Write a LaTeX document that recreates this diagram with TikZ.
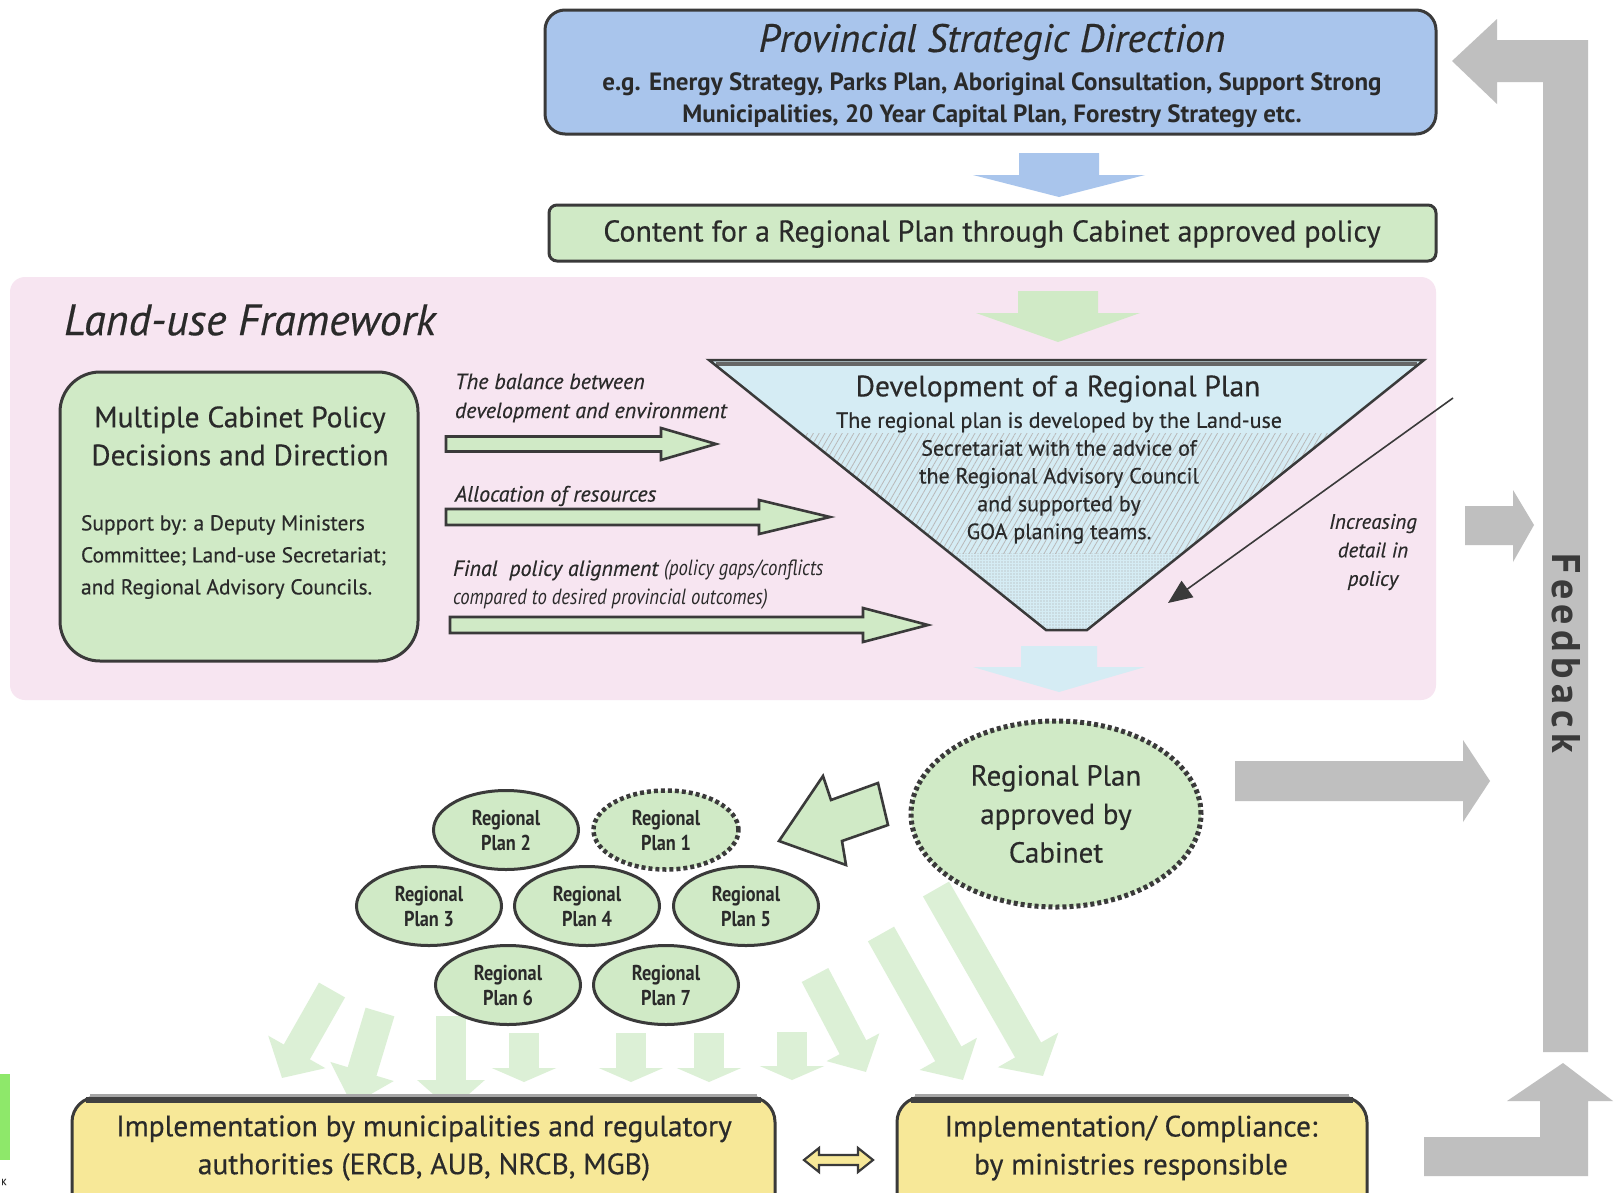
\documentclass[tikz,border=0pt]{standalone}
\usepackage{fontspec}
\setmainfont{PT Sans}[UprightFeatures={FakeBold=0.4},ItalicFeatures={FakeBold=0.4}]
\newfontfamily\condfont{PT Sans}[FakeStretch=0.85]
\newfontfamily\fbfont{PT Sans}[LetterSpace=14]
\usetikzlibrary{shapes.geometric,arrows.meta,patterns.meta}
\definecolor{bluebox}{HTML}{A9C5EC}
\definecolor{greenbox}{HTML}{D0EAC6}
\definecolor{pinkbg}{HTML}{F7E5F1}
\definecolor{funnelc}{HTML}{D5ECF4}
\definecolor{yellowbox}{HTML}{F7E898}
\definecolor{fbgray}{HTML}{BFBFBF}
\definecolor{faint}{HTML}{DCF0D6}
\definecolor{edge}{HTML}{3A3A3A}
\definecolor{ink}{HTML}{2A2A2A}
\definecolor{sliver}{HTML}{8EE86A}
\tikzset{
  boxedge/.style={draw=edge, line width=3pt},
  hollowgreen/.style={fill=greenbox, draw=edge, line width=2.6pt, line join=miter},
  fbarrow/.style={fill=fbgray},
  faintarrow/.style={draw=faint, line width=30pt, line cap=butt},
  planell/.style={ellipse, fill=greenbox, boxedge, minimum width=145pt, minimum height=79pt, align=center,
    font=\condfont\bfseries\fontsize{21.5}{25}\selectfont},
  dotedge/.style={draw=edge, dash pattern=on 4pt off 3pt},
  lab/.style={font=\itshape\fontsize{22}{29}\selectfont, align=left, anchor=west},
}
\newcommand\myHarrow[6]{% x0, xbase, xtip, yc, shaft half, head half
  \draw[hollowgreen] (#1,#4-#5) -- (#2,#4-#5) -- (#2,#4-#6) -- (#3,#4) -- (#2,#4+#6) -- (#2,#4+#5) -- (#1,#4+#5) -- cycle;}
\newcommand\myVarrow[7]{% color, xc, y0, ybase, ytip, shaft half, head half
  \fill[#1] (#2-#6,#3) -- (#2+#6,#3) -- (#2+#6,#4) -- (#2+#7,#4) -- (#2,#5) -- (#2-#7,#4) -- (#2-#6,#4) -- cycle;}
\begin{document}
\begin{tikzpicture}[x=1pt,y=-1pt,every node/.style={text=ink,inner sep=0pt,outer sep=0pt}]
\useasboundingbox (0,0) rectangle (1620,1192);
\fill[white] (0,0) rectangle (1620,1192);

% fragments at left edge
\fill[sliver] (0,1074) rectangle (10,1160);
\node[font=\fontsize{9}{10}\selectfont] (kfrag) at (4,1182) {K};

% Land-use framework background
\fill[pinkbg, rounded corners=15pt] (10,277) rectangle (1436,700);

% Provincial strategic direction
\node[boxedge, fill=bluebox, rounded corners=20pt, minimum width=891pt, minimum height=124pt] (psd) at (990.5,72) {};
\node[font=\itshape\fontsize{39.5}{44}\selectfont] (psdT) at (992,42) {Provincial Strategic Direction};
\node[font=\bfseries\fontsize{25}{32}\selectfont, align=center] (psdS) at (992,100)
  {e.g. Energy Strategy, Parks Plan, Aboriginal Consultation, Support Strong\\Municipalities, 20 Year Capital Plan, Forestry Strategy etc.};

% content box
\node[boxedge, fill=greenbox, rounded corners=8pt, minimum width=887pt, minimum height=56pt] (cont) at (992.5,233) {};
\node[font=\fontsize{30}{34}\selectfont] (contT) at (992,234) {Content for a Regional Plan through Cabinet approved policy};

% block arrows down
\myVarrow{bluebox}{1059}{153}{175}{197}{40}{86}
\myVarrow{greenbox}{1058}{291}{313}{342}{40}{82}
\myVarrow{funnelc}{1059}{646}{667}{692}{38}{86}

% Land-use framework title
\node[font=\itshape\fontsize{44}{48}\selectfont, anchor=west] (luf) at (64,320) {Land-use Framework};

% Multiple cabinet policy box
\node[boxedge, fill=greenbox, rounded corners=40pt, minimum width=358pt, minimum height=289pt] (mcp) at (239,516.5) {};
\node[font=\fontsize{29.5}{38}\selectfont, align=center] (mcT) at (240,436) {Multiple Cabinet Policy\\Decisions and Direction};
\node[font=\fontsize{21.5}{32}\selectfont, align=left, anchor=west] (mcS) at (81,557)
  {Support by: a Deputy Ministers\\Committee; Land-use Secretariat;\\and Regional Advisory Councils.};

% three hollow arrows with labels
\node[lab] (lab1) at (455,398) {The balance between\\development and environment};
\myHarrow{446}{661}{716}{444}{7.5}{16}
\node[lab] (lab2) at (455,496) {Allocation of resources};
\myHarrow{446}{759}{830}{517}{8}{17}
\node[lab] (lab3) at (453,585)
  {Final\ \ policy alignment {\condfont(policy gaps/conflicts}\\{\condfont compared to desired provincial outcomes)}};
\myHarrow{450}{863}{928}{625}{8}{17}

% funnel
\coordinate (fTL) at (709,360);
\coordinate (fTR) at (1424,360);
\coordinate (fBR) at (1087,630);
\coordinate (fBL) at (1046,630);
\fill[funnelc] (fTL) -- (fTR) -- (fBR) -- (fBL) -- cycle;
\begin{scope}
  \clip (fTL) -- (fTR) -- (fBR) -- (fBL) -- cycle;
  \fill[pattern={Lines[angle=60,distance=5pt,line width=0.8pt]}, pattern color=gray!55] (700,433) rectangle (1430,553);
  \fill[pattern={Dots[radius=0.7pt,distance=3pt]}, pattern color=gray!70] (700,553) rectangle (1430,632);
\end{scope}
\draw[gray!80!black, line width=4pt] (716,364) -- (1417,364);
\draw[edge, line width=2.5pt, line join=miter] (fTL) -- (fTR) -- (fBR) -- (fBL) -- cycle;
\node[font=\fontsize{29.5}{32}\selectfont] (devT) at (1058,389) {Development of a Regional Plan};
\node[font=\fontsize{22}{27.8}\selectfont, align=center] (devS) at (1059,478)
  {The regional plan is developed by the Land-use\\Secretariat with the advice of\\the Regional Advisory Council\\and supported by\\GOA planing teams.};

% increasing detail
\coordinate (incS) at (1453,398);
\coordinate (incE) at (1168,603);
\draw[edge, line width=1.6pt, -{Triangle[width=20pt,length=24pt]}] (incS) -- (incE);
\node[font=\itshape\fontsize{21}{28.5}\selectfont, align=center] (incT) at (1373,552) {Increasing\\detail in\\policy};

% feedback arrows
\fill[fbarrow] (1452,61) -- (1497,19) -- (1497,40) -- (1588,40) -- (1588,1052) -- (1543,1052) -- (1543,82) -- (1497,82) -- (1497,104) -- cycle;
\fill[fbarrow] (1465,506) -- (1513,506) -- (1513,490) -- (1534,525) -- (1513,562) -- (1513,545) -- (1465,545) -- cycle;
\fill[fbarrow] (1235,761) -- (1463,761) -- (1463,740) -- (1490,781) -- (1463,822) -- (1463,801) -- (1235,801) -- cycle;
\fill[fbarrow] (1424,1137) -- (1540,1137) -- (1540,1101) -- (1507,1101) -- (1563,1063) -- (1613,1101) -- (1588,1101) -- (1588,1176) -- (1424,1176) -- cycle;
\node[rotate=-90, font=\fbfont\bfseries\fontsize{40}{44}\selectfont, text=edge] (fb) at (1566,653) {Feedback};

% faint arrows towards implementation
\begin{scope}
  \clip (0,850) rectangle (1200,1095);
  \coordinate (s1a) at (332,990);  \coordinate (s1b) at (282,1078);
  \coordinate (s2a) at (380,1012); \coordinate (s2b) at (352,1105);
  \coordinate (v1a) at (451,1016); \coordinate (v1b) at (451,1110);
  \coordinate (v2a) at (524,1033); \coordinate (v2b) at (524,1082);
  \coordinate (v3a) at (631,1033); \coordinate (v3b) at (631,1082);
  \coordinate (v4a) at (709,1033); \coordinate (v4b) at (709,1082);
  \coordinate (v5a) at (792,1032); \coordinate (v5b) at (792,1080);
  \coordinate (r1a) at (815,975);  \coordinate (r1b) at (866,1072);
  \coordinate (r2a) at (881,934);  \coordinate (r2b) at (963,1080);
  \coordinate (r3a) at (936,889);  \coordinate (r3b) at (1043,1076);
  \draw[faintarrow, -{Triangle[width=64pt,length=30pt]}] (s1a) -- (s1b);
  \draw[faintarrow, -{Triangle[width=64pt,length=35pt]}] (s2a) -- (s2b);
  \draw[faintarrow, -{Triangle[width=66pt,length=30pt]}] (v1a) -- (v1b);
  \foreach \v in {v2,v3,v4,v5}{
    \draw[faintarrow, -{Triangle[width=64pt,length=14pt]}] (\v a) -- (\v b);}
  \draw[faintarrow, -{Triangle[width=58pt,length=28pt]}] (r1a) -- (r1b);
  \draw[faintarrow, -{Triangle[width=64pt,length=30pt]}] (r2a) -- (r2b);
  \draw[faintarrow, -{Triangle[width=68pt,length=30pt]}] (r3a) -- (r3b);
\end{scope}

% regional plan approved
\node[ellipse, fill=greenbox, dotedge, line width=5pt, minimum width=290pt, minimum height=186pt, align=center,
  font=\fontsize{29}{38.5}\selectfont] (rpa) at (1056,814) {Regional Plan\\approved by\\Cabinet};

% hollow arrow towards plans
\draw[hollowgreen] (779,841) -- (823,776) -- (831,800) -- (878,783) -- (888,825) -- (842,841) -- (846,865) -- cycle;

% regional plans
\node[planell, dotedge, line width=4.5pt] (rp1) at (666,830) {Regional\\Plan 1};
\node[planell] (rp2) at (506,830) {Regional\\Plan 2};
\node[planell] (rp3) at (429,906) {Regional\\Plan 3};
\node[planell] (rp4) at (587,906) {Regional\\Plan 4};
\node[planell] (rp5) at (746,906) {Regional\\Plan 5};
\node[planell] (rp6) at (508,985) {Regional\\Plan 6};
\node[planell] (rp7) at (666,985) {Regional\\Plan 7};

% implementation boxes
\node[boxedge, fill=yellowbox, rounded corners=25pt, minimum width=703pt, minimum height=150pt, anchor=north west] (imp) at (72,1097) {};
\node[boxedge, fill=yellowbox, rounded corners=25pt, minimum width=470pt, minimum height=150pt, anchor=north west] (cmp) at (897,1097) {};
\draw[gray!70, line width=3pt] (90,1095) -- (757,1095);
\draw[edge!90!gray, line width=6pt] (86,1100) -- (761,1100);
\draw[gray!70, line width=3pt] (915,1095) -- (1349,1095);
\draw[edge!90!gray, line width=6pt] (911,1100) -- (1353,1100);
\node[font=\fontsize{29.5}{38}\selectfont, align=center] (impT) at (424,1148)
  {Implementation by municipalities and regulatory\\authorities (ERCB, AUB, NRCB, MGB)};
\node[font=\fontsize{29.5}{38}\selectfont, align=center] (cmpT) at (1131,1148)
  {Implementation/ Compliance:\\by ministries responsible};

% double arrow between implementation boxes
\draw[fill=yellowbox, draw=edge, line width=2.2pt, line join=miter]
  (804,1160) -- (819,1148) -- (819,1155) -- (858,1155) -- (858,1148) -- (873,1160)
  -- (858,1172) -- (858,1165) -- (819,1165) -- (819,1172) -- cycle;
\end{tikzpicture}
\end{document}
